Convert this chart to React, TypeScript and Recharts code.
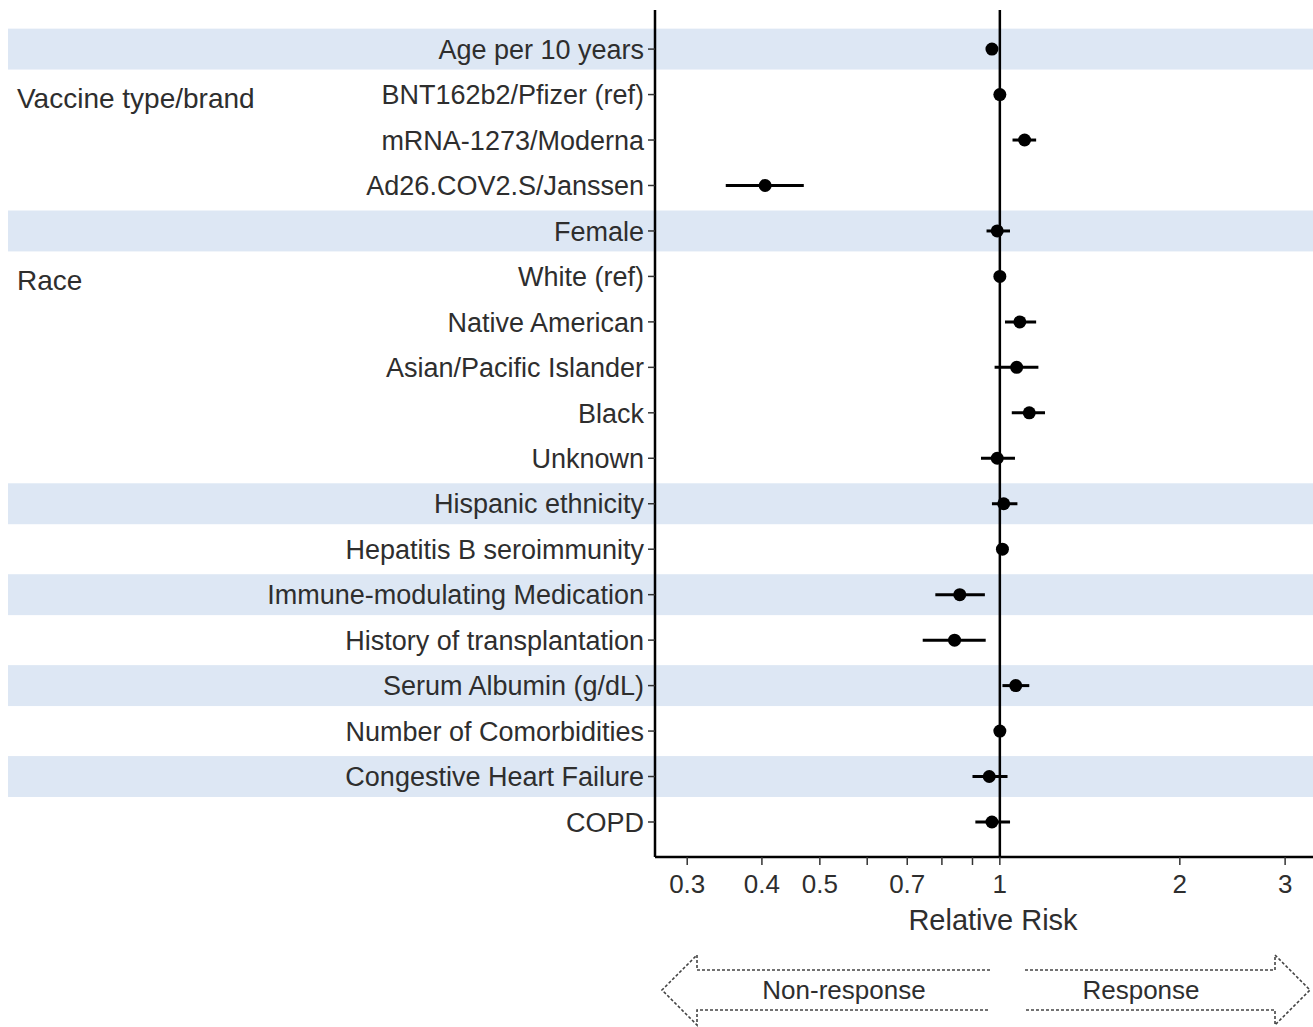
import React from "react";
import {
  ErrorBar,
  ReferenceArea,
  ReferenceLine,
  Scatter,
  ScatterChart,
  XAxis,
  YAxis,
} from "recharts";

const LABELS = [
  "Age per 10 years",
  "BNT162b2/Pfizer (ref)",
  "mRNA-1273/Moderna",
  "Ad26.COV2.S/Janssen",
  "Female",
  "White (ref)",
  "Native American",
  "Asian/Pacific Islander",
  "Black",
  "Unknown",
  "Hispanic ethnicity",
  "Hepatitis B seroimmunity",
  "Immune-modulating Medication",
  "History of transplantation",
  "Serum Albumin (g/dL)",
  "Number of Comorbidities",
  "Congestive Heart Failure",
  "COPD",
];

const GROUPS: Record<number, string> = {
  1: "Vaccine type/brand",
  5: "Race",
};

const RR = [0.97, 1, 1.1, 0.405, 0.99, 1, 1.08, 1.067, 1.12, 0.99, 1.015, 1.01, 0.857, 0.84, 1.063, 1.0, 0.96, 0.97];
const LOWER = [0.96, 1, 1.05, 0.348, 0.95, 1, 1.02, 0.98, 1.047, 0.93, 0.97, 1.0, 0.78, 0.743, 1.01, 0.995, 0.9, 0.91];
const UPPER = [0.98, 1, 1.15, 0.47, 1.04, 1, 1.15, 1.16, 1.19, 1.06, 1.07, 1.02, 0.944, 0.947, 1.12, 1.005, 1.03, 1.04];

const SHADED_ROWS = [0, 4, 10, 12, 14, 16];

const X_TICKS = [0.3, 0.4, 0.5, 0.6, 0.7, 0.8, 0.9, 1, 2, 3];
const X_LABELED = [0.3, 0.4, 0.5, 0.7, 1, 2, 3];

const FONT = "'Liberation Sans', Arial, sans-serif";
const TEXT = "#2e2e2e";
const BAND = "#dde7f4";

const rows = RR.map((x, i) => ({
  x,
  y: i,
  err: [x - LOWER[i], UPPER[i] - x],
}));

function YTick(props: any) {
  const { x, y, payload } = props;
  const i = payload.value as number;
  return (
    <g>
      <text x={x} y={y} dy="0.36em" textAnchor="end" fontSize={27} fill={TEXT} fontFamily={FONT}>
        {LABELS[i]}
      </text>
      {GROUPS[i] && (
        <text x={17} y={y + 3} dy="0.36em" textAnchor="start" fontSize={28} fill={TEXT} fontFamily={FONT}>
          {GROUPS[i]}
        </text>
      )}
    </g>
  );
}

function BandShape(props: any) {
  const { x, y, width, height } = props;
  return <rect x={8} y={y} width={x + width - 8} height={height} fill={BAND} />;
}

function Dot(props: any) {
  return <circle cx={props.cx} cy={props.cy} r={6.5} fill="#000" />;
}

function Arrows() {
  const dash = { fill: "none", stroke: "#444", strokeWidth: 1.6, strokeDasharray: "3 2" };
  return (
    <svg width={1313} height={1027} style={{ position: "absolute", left: 0, top: 0, pointerEvents: "none" }}>
      <polyline points="990,970 697,970 697,955 662,990 697,1025 697,1010 990,1010" {...dash} />
      <polyline points="1025,970 1275,970 1275,955 1310,990 1275,1025 1275,1010 1025,1010" {...dash} />
      <text x={844} y={990} dy="0.36em" textAnchor="middle" fontSize={26} fill={TEXT} fontFamily={FONT}>
        Non-response
      </text>
      <text x={1141} y={990} dy="0.36em" textAnchor="middle" fontSize={26} fill={TEXT} fontFamily={FONT}>
        Response
      </text>
    </svg>
  );
}

export default function App() {
  return (
    <div
      style={{
        position: "fixed",
        left: 0,
        top: 0,
        width: 1313,
        height: 1027,
        overflow: "hidden",
        background: "#fff",
        fontFamily: FONT,
      }}
    >
      <ScatterChart width={1313} height={1027} margin={{ top: 10, right: 0, bottom: 120, left: 0 }}>
        {SHADED_ROWS.map((r) => (
          <ReferenceArea
            key={r}
            y1={r - 0.45}
            y2={r + 0.45}
            shape={BandShape}
            ifOverflow="visible"
          />
        ))}
        <XAxis
          type="number"
          dataKey="x"
          scale="log"
          domain={[0.265, 3.34]}
          allowDataOverflow
          ticks={X_TICKS}
          interval={0}
          height={50}
          tickSize={8}
          tickMargin={10}
          tickFormatter={(v: number) => (X_LABELED.includes(v) ? String(v) : "")}
          tick={{ fontSize: 26, fill: TEXT, fontFamily: FONT }}
          axisLine={{ stroke: "#000", strokeWidth: 2.5 }}
          tickLine={{ stroke: "#333", strokeWidth: 1.5 }}
          label={{
            value: "Relative Risk",
            position: "bottom",
            offset: 2,
            dx: 9,
            fontSize: 29,
            fill: TEXT,
            fontFamily: FONT,
          }}
        />
        <YAxis
          type="number"
          dataKey="y"
          domain={[-0.86, 17.77]}
          allowDataOverflow
          reversed
          ticks={LABELS.map((_, i) => i)}
          interval={0}
          width={655}
          tickSize={7}
          tickMargin={4}
          tick={YTick}
          axisLine={{ stroke: "#000", strokeWidth: 2.5 }}
          tickLine={{ stroke: "#333", strokeWidth: 1.5 }}
        />
        <ReferenceLine x={1} stroke="#000" strokeWidth={2.5} />
        <Scatter data={rows} shape={Dot} isAnimationActive={false}>
          <ErrorBar dataKey="err" direction="x" width={0} stroke="#000" strokeWidth={3} />
        </Scatter>
      </ScatterChart>
      <Arrows />
    </div>
  );
}
